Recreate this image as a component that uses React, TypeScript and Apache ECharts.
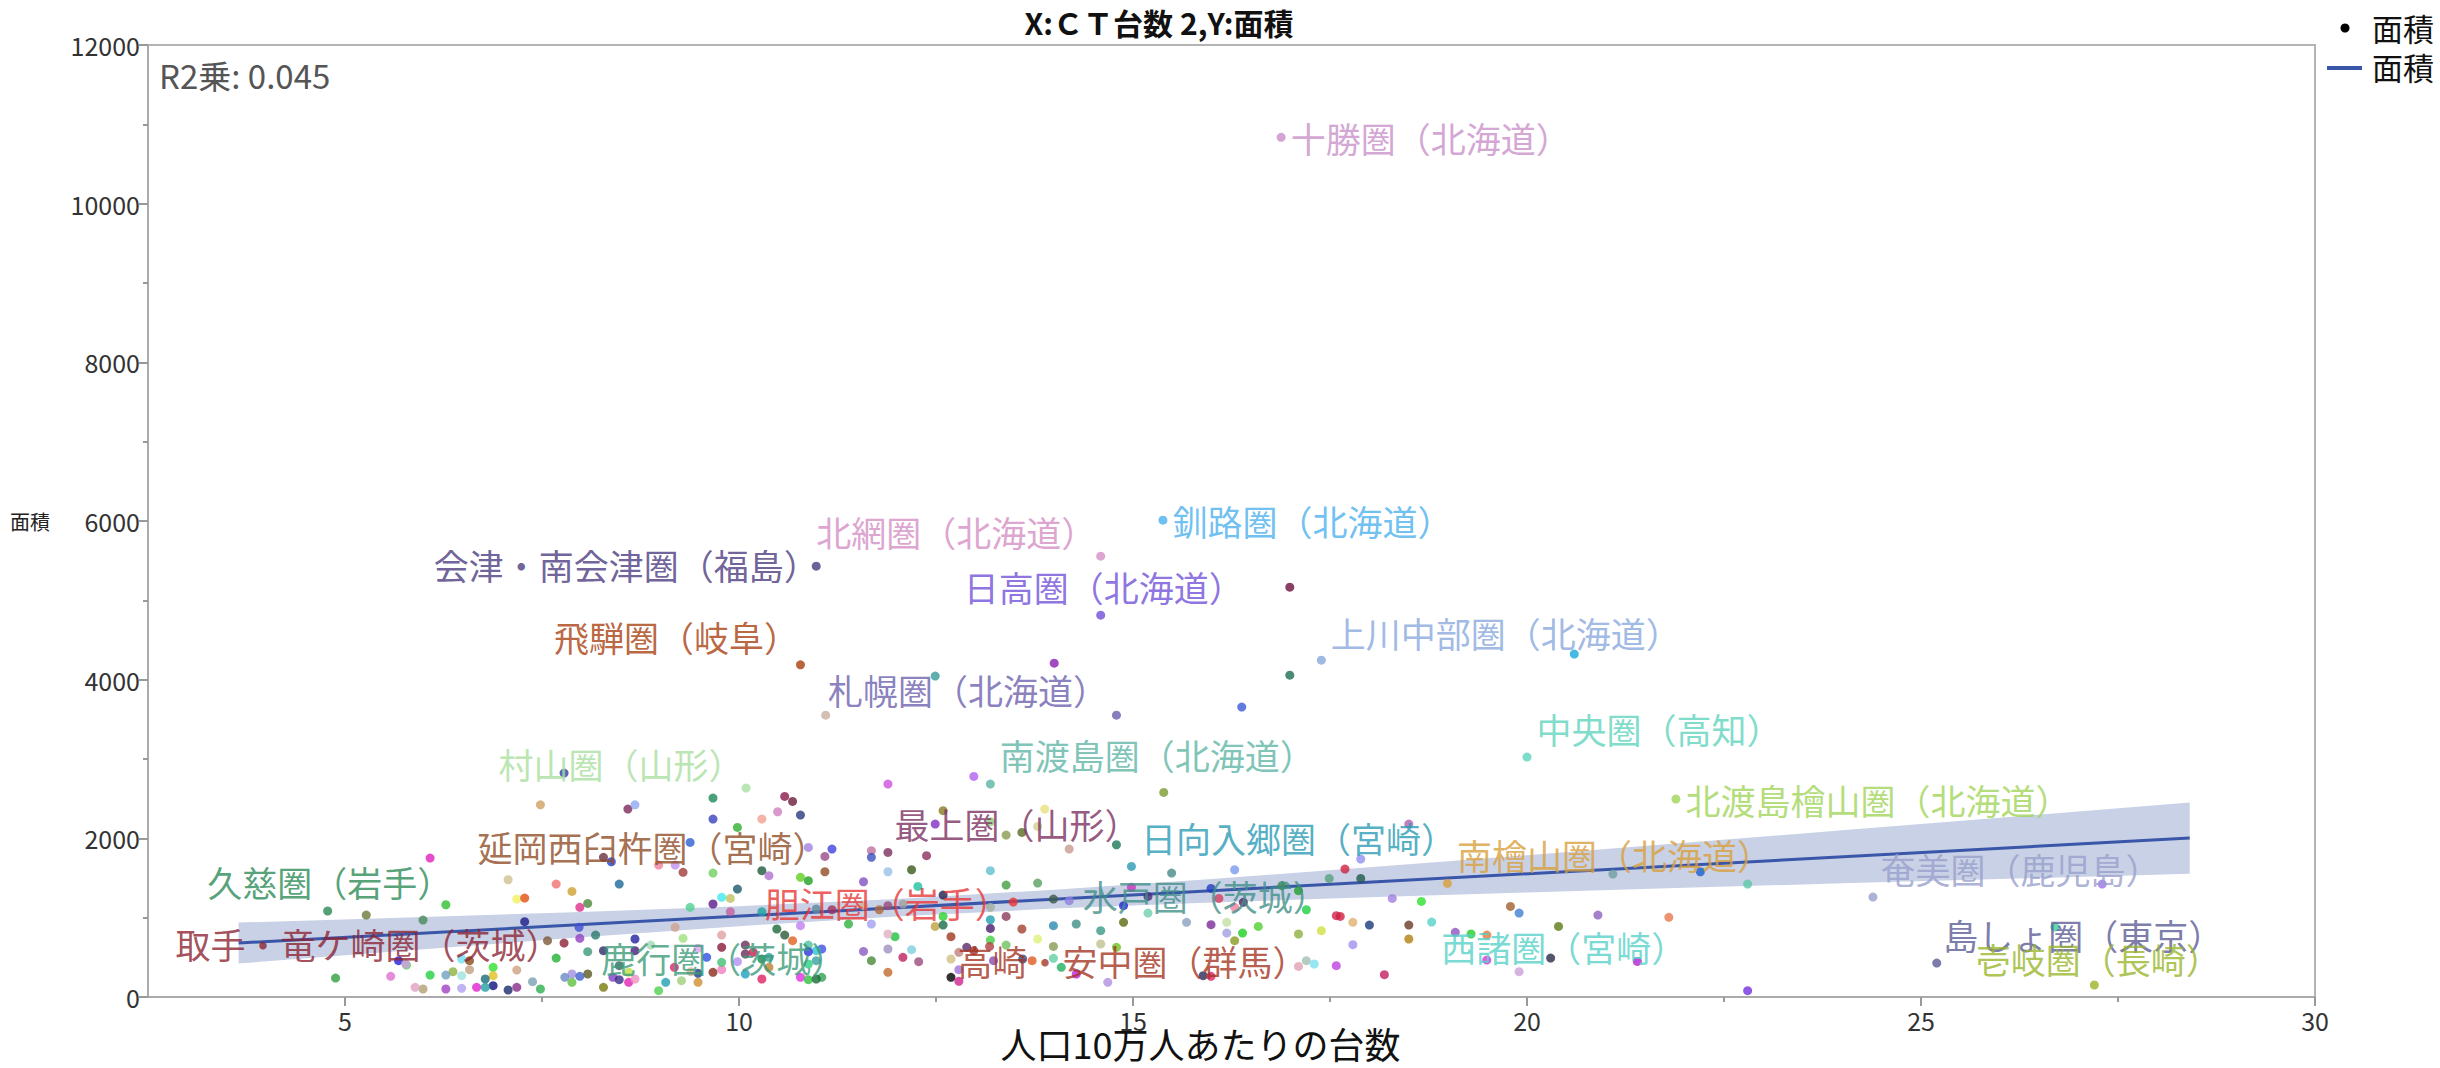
import React, { useEffect, useRef } from 'react';
import * as echarts from 'echarts';

const TITLE = 'X:ＣＴ台数 2,Y:面積';
const X_NAME = '人口10万人あたりの台数';
const Y_NAME = '面積';
const R2_TEXT = 'R2乗: 0.045';
const LEGEND_NAMES = ['面積', '面積'];

const X_MIN = 2.5;
const X_MAX = 30;
const X_MAJOR = [5, 10, 15, 20, 25, 30];
const X_MINOR = [7.5, 12.5, 17.5, 22.5, 27.5];
const Y_MIN = 0;
const Y_MAX = 12000;
const Y_STEP = 2000;

// labelled regions
const LABEL_NAMES = [
  '十勝圏（北海道）', '釧路圏（北海道）', '北網圏（北海道）', '会津・南会津圏（福島）', '日高圏（北海道）',
  '飛騨圏（岐阜）', '上川中部圏（北海道）', '札幌圏（北海道）', '南渡島圏（北海道）', '中央圏（高知）',
  '北渡島檜山圏（北海道）', '南檜山圏（北海道）', '日向入郷圏（宮崎）', '最上圏（山形）', '村山圏（山形）',
  '延岡西臼杵圏（宮崎）', '久慈圏（岩手）', '取手・竜ケ崎圏（茨城）', '鹿行圏（茨城）', '胆江圏（岩手）',
  '水戸圏（茨城）', '高崎・安中圏（群馬）', '西諸圏（宮崎）', '奄美圏（鹿児島）', '島しょ圏（東京）', '壱岐圏（長崎）',
];
const LABEL_X = [
  16.88, 15.38, 14.59, 10.98, 14.59,
  10.78, 17.39, 14.79, 13.19, 20.0,
  21.89, 18.99, 14.98, 11.89, 10.09,
  11.09, 4.78, 7.78, 8.08, 13.48,
  14.28, 12.69, 18.79, 24.39, 25.2, 27.2,
];
const LABEL_Y = [
  10836, 6010, 5557, 5431, 4813,
  4187, 4246, 3553, 2684, 3024,
  2495, 1432, 1646, 1823, 2633,
  1579, 1084, 680, 571, 1197,
  920, 760, 945, 1260, 428, 151,
];

// other regions, [x, y]
const OTHER_POINTS: number[][] = [
  [16.99, 5166], [20.6, 4322], [16.99, 4057], [14.0, 4208], [12.49, 4045], [16.38, 3654], [11.1, 3553], [7.78, 2822],
  [11.89, 2684], [12.98, 2780], [15.39, 2579], [12.59, 2348], [13.88, 2369], [12.49, 2180], [13.19, 2209], [13.39, 2041],
  [13.59, 2075], [13.79, 2150], [14.79, 1919], [14.19, 1865], [11.18, 1865], [11.09, 1772], [11.68, 1844], [11.68, 1760],
  [12.38, 1781], [15.49, 1562], [16.29, 1604], [11.89, 1579], [12.19, 1604], [13.19, 1592], [11.58, 1453], [12.27, 1394],
  [13.39, 1411], [13.79, 1436], [17.49, 1495], [16.89, 1403], [17.1, 1340], [14.98, 1382], [15.99, 1369], [12.59, 1285],
  [13.99, 1235], [14.19, 1214], [15.19, 1268], [14.88, 1151], [16.09, 1243], [16.29, 1130], [16.4, 1193], [17.2, 1100],
  [17.58, 1025], [11.18, 1100], [11.89, 1151], [11.78, 1100], [11.58, 1151], [12.08, 1172], [13.19, 1130], [11.39, 920],
  [11.68, 920], [12.59, 1016], [12.49, 890], [12.59, 907], [13.19, 974], [13.39, 1016], [13.19, 865], [13.59, 857],
  [13.99, 899], [14.59, 836], [14.88, 941], [15.19, 1058], [15.68, 941], [15.99, 911], [16.19, 941], [16.59, 890],
  [16.39, 806], [16.19, 806], [16.29, 710], [17.1, 794], [17.39, 836], [11.98, 760], [11.89, 794], [13.19, 718],
  [13.39, 655], [13.79, 731], [13.99, 638], [14.59, 668], [14.79, 626], [11.58, 575], [11.89, 605], [12.08, 500],
  [12.19, 596], [11.68, 458], [12.28, 445], [11.89, 311], [12.69, 479], [12.79, 563], [12.89, 626], [12.79, 344],
  [12.69, 248], [12.79, 197], [12.98, 584], [13.18, 638], [13.23, 458], [13.6, 479], [13.72, 458], [13.99, 487],
  [14.09, 374], [14.28, 290], [14.68, 185], [15.89, 269], [15.99, 260], [17.1, 386], [17.2, 458], [17.3, 416],
  [17.58, 395], [11.05, 605], [11.05, 248],
  [17.89, 1739], [17.69, 1613], [17.89, 1495], [21.09, 1550], [22.2, 1579], [22.8, 1424], [18.29, 1243], [18.66, 1205],
  [19.79, 1142], [19.9, 1058], [20.9, 1033], [21.8, 1004], [17.63, 1016], [17.79, 941], [18.0, 907], [18.5, 907],
  [18.5, 731], [17.79, 659], [19.09, 815], [19.29, 794], [19.49, 781], [20.4, 890], [19.49, 466], [20.3, 491],
  [21.4, 449], [19.9, 319], [18.19, 281], [22.8, 80], [18.5, 2180], [27.3, 1424], [26.7, 882],
  [7.48, 2423], [8.59, 2369], [8.68, 2423], [9.67, 2507], [10.58, 2528], [10.68, 2465], [10.49, 2335], [10.78, 2293],
  [9.67, 2243], [10.29, 2243], [9.98, 2138], [9.38, 1949], [10.88, 1886], [6.08, 1751], [8.28, 1760], [8.38, 1705],
  [8.98, 1663], [9.19, 1663], [9.29, 1571], [9.67, 1562], [10.29, 1592], [10.38, 1529], [10.78, 1508], [10.88, 1466],
  [7.07, 1478], [7.68, 1424], [7.88, 1331], [8.48, 1424], [7.18, 1235], [7.28, 1247], [6.28, 1163], [5.27, 1033],
  [5.99, 970], [7.98, 1130], [8.08, 1180], [9.38, 1130], [9.67, 1172], [9.78, 1256], [9.89, 1243], [9.98, 1361],
  [9.89, 1075], [10.29, 1075], [7.28, 949], [7.97, 878], [7.98, 739], [8.18, 781], [7.57, 710], [9.19, 878],
  [8.68, 731], [8.68, 584], [9.29, 739], [9.78, 781], [9.78, 626], [10.08, 655], [9.48, 613], [8.88, 655],
  [9.59, 500], [9.18, 374], [9.67, 311], [9.78, 344], [9.78, 437], [9.48, 298], [9.98, 445], [10.08, 542],
  [10.18, 563], [10.29, 479], [10.38, 500], [10.38, 374], [10.29, 227], [10.08, 290], [10.48, 857], [10.58, 781],
  [10.68, 710], [10.78, 899], [10.88, 655], [10.98, 584], [10.88, 571], [10.78, 248], [10.88, 218], [10.98, 227],
  [10.98, 458], [10.88, 416], [10.98, 1109], [9.07, 185], [8.98, 80], [9.27, 206], [9.48, 185], [8.48, 395],
  [8.6, 311], [8.4, 248], [8.48, 218], [8.6, 185], [8.68, 227], [8.28, 122], [8.08, 290], [7.88, 290],
  [7.88, 185], [7.79, 248], [7.68, 491], [7.38, 193], [7.48, 101], [7.18, 340], [7.18, 122], [7.07, 88],
  [6.88, 374], [6.88, 269], [6.88, 143], [6.78, 227], [6.78, 122], [6.67, 122], [6.58, 458], [6.58, 344],
  [6.48, 479], [6.48, 269], [6.48, 109], [6.37, 319], [6.28, 277], [6.28, 101], [6.08, 277], [5.99, 101],
  [5.89, 122], [5.78, 403], [5.68, 458], [5.58, 260], [4.88, 239], [7.98, 260], [8.28, 584], [9.39, 319], [5.77, 416],
];

// regression line and its confidence band
const REG_X = [3.65, 28.41];
const REG_Y = [680, 2003];
const BAND_X = [3.65, 6, 8, 10, 12, 14, 16, 18, 20, 22, 24, 26, 28.41];
const BAND_LOW = [422, 603, 752, 893, 1016, 1114, 1191, 1257, 1318, 1376, 1433, 1487, 1553];
const BAND_HIGH = [938, 1007, 1072, 1145, 1236, 1352, 1487, 1635, 1788, 1944, 2101, 2259, 2451];

// ---- styles ----
const FONT = "'Noto Sans CJK JP', 'Noto Sans', sans-serif";
const LINE_COLOR = '#3a56a8';
const BAND_COLOR = '#c9d1e6';

const LABEL_COLORS = [
  '#c98fc9', '#4ab0ee', '#d48ec4', '#4a3a80', '#7050d8',
  '#a8400f', '#88a8dd', '#6d5fae', '#5db5a5', '#5dd3bd',
  '#9fd458', '#d9a03a', '#2a9bb5', '#7a2e5e', '#a8e0a0',
  '#8e4b24', '#2a8a55', '#8c2232', '#3a9a78', '#e83535',
  '#3f8f86', '#a33421', '#55d1c8', '#98a0cc', '#5b5b95', '#98b52a',
];
const LABEL_PLACE: [string, number[]][] = [
  ['right', [0, 0]], ['right', [0, 0]], ['left', [5, -25]], ['left', [12, -2]], ['top', [3, -2]],
  ['left', [8, -28]], ['right', [0, -28]], ['left', [1, -26]], ['right', [0, -30]], ['right', [0, -29]],
  ['right', [0, 0]], ['right', [0, -29]], ['right', [0, -29]], ['right', [-3, -29]], ['left', [7, -25]],
  ['left', [12, -25]], ['top', [2, -3]], ['left', [6, 0]], ['right', [4, 6]], ['left', [6, 0]],
  ['right', [-3, -29]], ['right', [-3, 24]], ['right', [0, 24]], ['right', [-2, -29]], ['right', [-3, -29]], ['top', [4, 0]],
];
const OTHER_COLORS = [
  '#6b1040', '#1aa8d8', '#1f6e50', '#8a1fb0', '#3a9a9a', '#3a5ad8', '#c8b0a0', '#3040a0',
  '#d050e0', '#b060f0', '#7a9a30', '#8a7a20', '#e8e080', '#8030c0', '#90d080', '#8a9a50',
  '#5a6a20', '#d0d090', '#1a7a5a', '#c89a90', '#4040e0', '#9a4a8a', '#c070a0', '#3a50c0',
  '#8a3060', '#4a8a8a', '#7a9af0', '#9ac0e8', '#3a5a1a', '#60c0d0', '#8050c0', '#20c0a0',
  '#40a040', '#5aa060', '#5aa080', '#3a8a4a', '#20a020', '#d030c0', '#2040c0', '#202050',
  '#3a5a4a', '#9080e0', '#4a2a7a', '#2020e0', '#d04060', '#f080a0', '#502060', '#20d040',
  '#d02050', '#a03060', '#9a4a7a', '#b06a3a', '#d0b090', '#a0a0a0', '#a0b0a0', '#30b040',
  '#a0a0f0', '#30d030', '#c0a040', '#1a6a4a', '#20a0b0', '#8a3a5a', '#4a1a6a', '#a04030',
  '#2a8ab0', '#3a9a8a', '#5a6a10', '#70d0b0', '#8aa0c0', '#7a2a9a', '#c0e0a0', '#50d030',
  '#20d020', '#a0a0e0', '#8a9a20', '#90b040', '#d0e040', '#20c040', '#e0b0c0', '#40d040',
  '#70c060', '#e0f080', '#8a9a50', '#c0c090', '#70c020', '#8a5ac0', '#a090c0', '#c02060',
  '#80d0e0', '#4a8a3a', '#9a4a7a', '#c06a2a', '#d0c080', '#c08080', '#5a2a6a', '#a070e0',
  '#000000', '#d02090', '#a03030', '#b04040', '#8a4ab0', '#2a4a8a', '#e05a20', '#60d0a0',
  '#20b060', '#c020e0', '#b090e0', '#2a2a5a', '#e02060', '#e0a0b0', '#a0c0b0', '#80e0f0',
  '#c040e0', '#4050e0', '#30a050',
  '#9090f0', '#d02040', '#205a4a', '#70a0a0', '#1a60d0', '#5ac8a8', '#a080e0', '#30e030',
  '#a06030', '#4080d0', '#9060c0', '#e87850', '#d02040', '#e0b070', '#1a3a7a', '#6a3a2a',
  '#b08010', '#a090f0', '#9050c0', '#20d020', '#e07a40', '#5a7a10', '#e030e0', '#2a2a4a',
  '#b020d0', '#c8a0d8', '#c02060', '#7030e0', '#b060b0', '#a070f0', '#3ad0a0',
  '#d0a060', '#7a2a5a', '#90a8f0', '#1a8a5a', '#8a1a4a', '#6a1a3a', '#d080c0', '#2a3a7a',
  '#3a40c0', '#f0a090', '#30b030', '#2a60d0', '#a080e0', '#e020c0', '#6a3040', '#2040e0',
  '#f080a0', '#c090f0', '#a03a3a', '#70d060', '#1a5a3a', '#b070d0', '#60d020', '#20a020',
  '#d0c090', '#f07070', '#d0a030', '#1a6a9a', '#f0f060', '#e05010', '#30c030', '#6a7a3a',
  '#4a8a5a', '#e0308a', '#4a8a3a', '#50d090', '#5a1a8a', '#40e8f0', '#c0c060', '#1a5a6a',
  '#c060a0', '#20a0a0', '#1a1a8a', '#4050d0', '#9040c0', '#2a7a6a', '#7a5a3a', '#d0a090',
  '#2020a0', '#4a1a7a', '#a0e080', '#e0a0a0', '#8a1a3a', '#6a2a5a', '#e0a0f0', '#a0d8b0',
  '#3050e0', '#e02070', '#8a2a1a', '#f080c0', '#40c070', '#1a3a8a', '#b090f0', '#6a2a5a',
  '#c02050', '#1a8a4a', '#3aa0a0', '#c08030', '#e02060', '#20a0c0', '#1a6a3a', '#2a5a3a',
  '#e06020', '#c080f0', '#50c0a0', '#30c0d0', '#3030e0', '#e030e0', '#30c040', '#1a6a3a',
  '#3aa0a0', '#30d080', '#5a8aa0', '#20a0b0', '#50d050', '#a0d080', '#d09030', '#2a6a5a',
  '#c0e040', '#8040c0', '#3a2a8a', '#e020b0', '#f090c0', '#7a7a10', '#5a5a20', '#a090e0',
  '#60c040', '#6a8ac0', '#20b030', '#7aa0b0', '#30b050', '#d0a080', '#8a2a8a', '#1a2a6a',
  '#30e030', '#e0c020', '#101080', '#1a6a7a', '#20a0a0', '#e020d0', '#8a4a1a', '#c0a080',
  '#70e0f0', '#a0e0e0', '#b0a0f0', '#90b040', '#70a0c0', '#a040c0', '#20d040', '#b0a070',
  '#e0a0c0', '#50d050', '#2020e0', '#e070d0', '#30a040', '#4060d0', '#2a2a6a', '#d0b090', '#d0a0e0',
];

export default function App() {
  const ref = useRef<HTMLDivElement>(null);
  useEffect(() => {
    document.body.style.margin = '0';
    const chart = echarts.init(ref.current!, null, { renderer: 'svg' });

    const labeled = LABEL_NAMES.map((name, i) => ({
      name,
      value: [LABEL_X[i], LABEL_Y[i]],
      itemStyle: { color: LABEL_COLORS[i] },
      label: {
        show: true,
        position: LABEL_PLACE[i][0],
        offset: LABEL_PLACE[i][1],
        color: LABEL_COLORS[i],
      },
    }));
    const others = OTHER_POINTS.map((p, i) => ({
      value: p,
      itemStyle: { color: OTHER_COLORS[i % OTHER_COLORS.length] },
    }));
    const bandData = BAND_X.map((x, i) => [x, BAND_LOW[i], BAND_HIGH[i]]);

    const option: any = {
      animation: false,
      backgroundColor: '#fff',
      textStyle: { fontFamily: FONT },
      grid: {
        left: 148, right: 125, top: 45, bottom: 71,
        containLabel: false, outerBoundsMode: 'none',
        show: true, borderColor: '#b4b4b4', borderWidth: 2,
      },
      xAxis: [
        {
          type: 'value', min: X_MIN, max: X_MAX,
          name: X_NAME, nameLocation: 'middle', nameGap: 18, nameMoveOverlap: false,
          nameTextStyle: {
            fontSize: 36, color: '#111', fontFamily: FONT,
            backgroundColor: '#fff', padding: [10, 64, 0, 2],
          },
          axisLine: { show: true, onZero: false, lineStyle: { color: '#aaa', width: 2 } },
          axisTick: { show: true, customValues: X_MAJOR, length: 9, lineStyle: { color: '#999', width: 2 } },
          axisLabel: { customValues: X_MAJOR, fontSize: 25, color: '#333', margin: 10, fontFamily: FONT },
          splitLine: { show: false },
        },
        {
          type: 'value', min: X_MIN, max: X_MAX, position: 'bottom',
          axisLine: { show: false },
          axisTick: { show: true, customValues: X_MINOR, length: 5, lineStyle: { color: '#999', width: 2 } },
          axisLabel: { show: false },
          splitLine: { show: false },
        },
      ],
      yAxis: {
        type: 'value', min: Y_MIN, max: Y_MAX, interval: Y_STEP,
        name: Y_NAME, nameLocation: 'middle', nameRotate: 0, nameGap: 98, nameMoveOverlap: false,
        nameTextStyle: { fontSize: 20, color: '#222', fontFamily: FONT },
        axisLine: { show: true, lineStyle: { color: '#aaa', width: 2 } },
        axisTick: { show: true, length: 9, lineStyle: { color: '#999', width: 2 } },
        minorTick: { show: true, splitNumber: 2, length: 5, lineStyle: { color: '#999', width: 2 } },
        axisLabel: { fontSize: 25, color: '#333', margin: 8, fontFamily: FONT, formatter: (v: number) => String(v) },
        splitLine: { show: false },
      },
      series: [
        {
          type: 'custom',
          data: bandData,
          encode: { x: 0, y: [1, 2] },
          silent: true,
          z: 1,
          renderItem: (params: any, api: any) => {
            if (params.dataIndex !== 0) return null;
            const upper = bandData.map((d) => api.coord([d[0], d[2]]));
            const lower = bandData.map((d) => api.coord([d[0], d[1]])).reverse();
            return {
              type: 'polygon',
              shape: { points: upper.concat(lower) },
              style: { fill: BAND_COLOR },
            };
          },
        },
        {
          type: 'line', data: REG_X.map((x, i) => [x, REG_Y[i]]), symbol: 'none',
          lineStyle: { color: LINE_COLOR, width: 3 }, z: 2,
        },
        {
          type: 'scatter', data: others, symbolSize: 9, z: 3,
        },
        {
          type: 'scatter', data: labeled, symbolSize: 9, z: 4,
          label: { formatter: '{b}', fontSize: 35, fontFamily: FONT, distance: 5 },
        },
      ],
      graphic: [
        {
          type: 'text', x: 1159, y: 22,
          style: { text: TITLE, fontSize: 30, fontWeight: 'bold', fill: '#111', fontFamily: FONT, align: 'center', verticalAlign: 'middle' },
        },
        {
          type: 'text', x: 159, y: 75,
          style: { text: R2_TEXT, fontSize: 33, fill: '#555', fontFamily: FONT, align: 'left', verticalAlign: 'middle' },
        },
        { type: 'circle', shape: { cx: 2345, cy: 28, r: 4.5 }, style: { fill: '#000' } },
        {
          type: 'text', x: 2372, y: 27,
          style: { text: LEGEND_NAMES[0], fontSize: 31, fill: '#111', fontFamily: FONT, align: 'left', verticalAlign: 'middle' },
        },
        { type: 'line', shape: { x1: 2327, y1: 68, x2: 2362, y2: 68 }, style: { stroke: LINE_COLOR, lineWidth: 4 } },
        {
          type: 'text', x: 2372, y: 66,
          style: { text: LEGEND_NAMES[1], fontSize: 31, fill: '#111', fontFamily: FONT, align: 'left', verticalAlign: 'middle' },
        },
      ],
    };
    chart.setOption(option);
    return () => chart.dispose();
  }, []);
  return <div ref={ref} style={{ width: 2440, height: 1068 }} />;
}
